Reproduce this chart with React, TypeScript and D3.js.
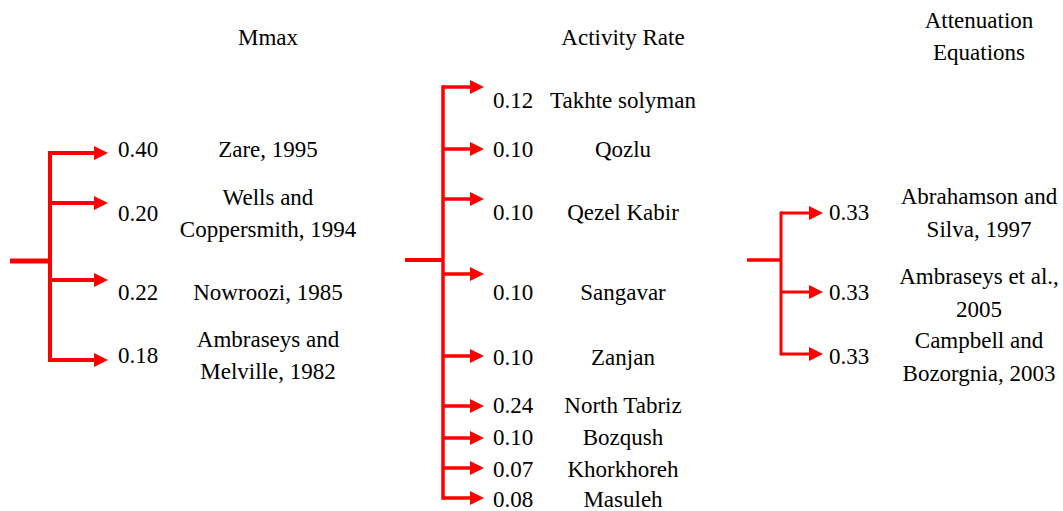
import * as d3 from 'd3';

// Logic tree branches: labels (lines) and weights
const mmaxLabels = [
  ['Zare, 1995'],
  ['Wells and', 'Coppersmith, 1994'],
  ['Nowroozi, 1985'],
  ['Ambraseys and', 'Melville, 1982'],
];
const mmaxWeights = [0.4, 0.2, 0.22, 0.18];

const activityLabels = [
  ['Takhte solyman'],
  ['Qozlu'],
  ['Qezel Kabir'],
  ['Sangavar'],
  ['Zanjan'],
  ['North Tabriz'],
  ['Bozqush'],
  ['Khorkhoreh'],
  ['Masuleh'],
];
const activityWeights = [0.12, 0.1, 0.1, 0.1, 0.1, 0.24, 0.1, 0.07, 0.08];

const attenuationLabels = [
  ['Abrahamson and', 'Silva, 1997'],
  ['Ambraseys et al.,', '2005'],
  ['Campbell and', 'Bozorgnia, 2003'],
];
const attenuationWeights = [0.33, 0.33, 0.33];

// layout of each node (picture positions, not data)
const groups = [
  {
    title: ['Mmax'], titleX: 268, titleY: 45,
    labels: mmaxLabels, weights: mmaxWeights,
    stemX: 10, trunkX: 50, tipX: 108, valueX: 118, labelX: 268,
    stemY: 261, arrowY: [153, 203, 280, 360], textY: [157, 221, 300, 363],
    stem: 5, stroke: 4, lineH: 32,
  },
  {
    title: ['Activity Rate'], titleX: 623, titleY: 45,
    labels: activityLabels, weights: activityWeights,
    stemX: 405, trunkX: 443, tipX: 484, valueX: 493, labelX: 623,
    stemY: 260, arrowY: [87, 149, 199, 274, 356, 406, 438, 468, 498],
    textY: [108, 157, 220, 300, 365, 413, 445, 477, 507],
    stem: 4, stroke: 3.5, lineH: 32,
  },
  {
    title: ['Attenuation', 'Equations'], titleX: 979, titleY: 28,
    labels: attenuationLabels, weights: attenuationWeights,
    stemX: 747, trunkX: 781, tipX: 823, valueX: 829, labelX: 979,
    stemY: 260, arrowY: [213, 292, 354], textY: [220, 300, 364],
    stem: 3.5, stroke: 3, lineH: 33,
  },
];

const RED = '#ff0000';
const FONT = "'Liberation Serif', 'DejaVu Serif', serif";
const fmt = d3.format('.2f');
const line = d3.line<[number, number]>();

export default function App() {
  const width = 1063;
  const height = 511;
  const headLen = 14;
  const headHalf = 7;

  return (
    <svg
      width={width}
      height={height}
      viewBox={`0 0 ${width} ${height}`}
      style={{ position: 'absolute', left: 0, top: 0, background: '#fff', fontFamily: FONT, fontSize: 23 }}
    >
      {groups.map((g, gi) => {
        const top = d3.min(g.arrowY) as number;
        const bottom = d3.max(g.arrowY) as number;
        return (
          <g key={gi}>
            {g.title.map((t, i) => (
              <text key={i} x={g.titleX} y={g.titleY + i * 32} textAnchor="middle" fill="#000">
                {t}
              </text>
            ))}
            {/* stem */}
            <path
              d={line([[g.stemX, g.stemY], [g.trunkX, g.stemY]]) || ''}
              stroke={RED}
              strokeWidth={g.stem}
              fill="none"
            />
            {/* trunk */}
            <path
              d={line([[g.trunkX, top - g.stroke / 2], [g.trunkX, bottom + g.stroke / 2]]) || ''}
              stroke={RED}
              strokeWidth={g.stroke}
              fill="none"
            />
            {g.arrowY.map((y, i) => (
              <g key={i}>
                <path
                  d={line([[g.trunkX, y], [g.tipX - headLen + 1, y]]) || ''}
                  stroke={RED}
                  strokeWidth={g.stroke}
                  fill="none"
                />
                <path
                  d={(line([
                    [g.tipX - headLen, y - headHalf],
                    [g.tipX, y],
                    [g.tipX - headLen, y + headHalf],
                  ]) || '') + 'Z'}
                  fill={RED}
                />
              </g>
            ))}
            {g.weights.map((w, i) => (
              <text key={i} x={g.valueX} y={g.textY[i]} fill="#000">
                {fmt(w)}
              </text>
            ))}
            {g.labels.map((lines, i) =>
              lines.map((t, j) => (
                <text
                  key={`${i}-${j}`}
                  x={g.labelX}
                  y={g.textY[i] + (j - (lines.length - 1) / 2) * g.lineH}
                  textAnchor="middle"
                  fill="#000"
                >
                  {t}
                </text>
              ))
            )}
          </g>
        );
      })}
    </svg>
  );
}
